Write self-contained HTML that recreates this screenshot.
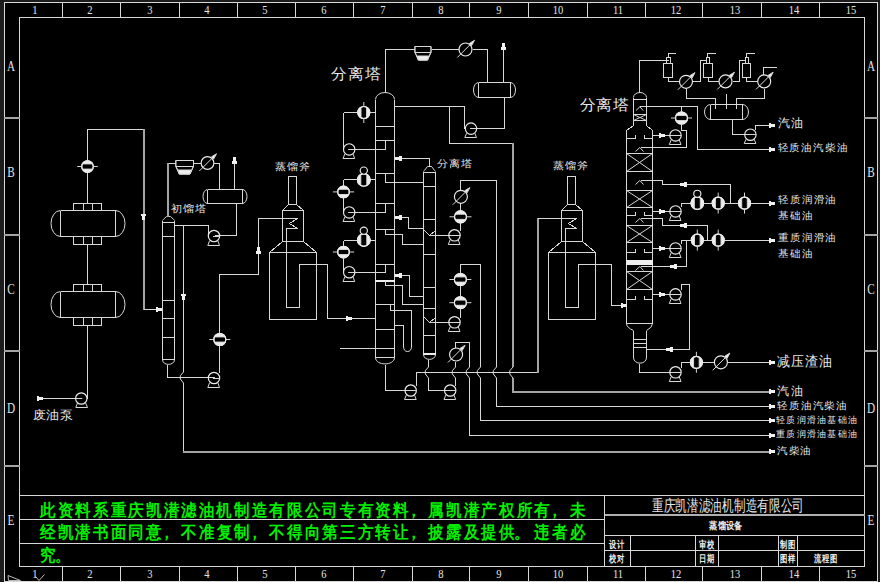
<!DOCTYPE html>
<html><head><meta charset="utf-8"><style>
html,body{margin:0;padding:0;background:#000;}
#w{position:relative;width:880px;height:582px;overflow:hidden;background:#000;}
svg{position:absolute;left:0;top:0;}
.t{position:absolute;white-space:nowrap;line-height:1;}
.a{shape-rendering:geometricPrecision}
</style></head><body><div id="w">
<svg width="880" height="582" viewBox="0 0 880 582">
<g stroke="#d8d8d8" stroke-width="1" fill="none" shape-rendering="crispEdges">
<rect x="0" y="0" width="880" height="582" fill="#1c1c1c" stroke="none"/>
<rect x="4" y="2" width="874" height="580" fill="#000" stroke="none"/>
<rect x="4.5" y="2.5" width="873" height="579"/>
<rect x="19.5" y="17.5" width="845" height="549"/>
<line x1="62.5" y1="2.5" x2="62.5" y2="17.5"/>
<line x1="62.5" y1="566.5" x2="62.5" y2="581.5"/>
<line x1="120.5" y1="2.5" x2="120.5" y2="17.5"/>
<line x1="120.5" y1="566.5" x2="120.5" y2="581.5"/>
<line x1="179.5" y1="2.5" x2="179.5" y2="17.5"/>
<line x1="179.5" y1="566.5" x2="179.5" y2="581.5"/>
<line x1="237.5" y1="2.5" x2="237.5" y2="17.5"/>
<line x1="237.5" y1="566.5" x2="237.5" y2="581.5"/>
<line x1="295.5" y1="2.5" x2="295.5" y2="17.5"/>
<line x1="295.5" y1="566.5" x2="295.5" y2="581.5"/>
<line x1="353.5" y1="2.5" x2="353.5" y2="17.5"/>
<line x1="353.5" y1="566.5" x2="353.5" y2="581.5"/>
<line x1="412.5" y1="2.5" x2="412.5" y2="17.5"/>
<line x1="412.5" y1="566.5" x2="412.5" y2="581.5"/>
<line x1="469.5" y1="2.5" x2="469.5" y2="17.5"/>
<line x1="469.5" y1="566.5" x2="469.5" y2="581.5"/>
<line x1="528.5" y1="2.5" x2="528.5" y2="17.5"/>
<line x1="528.5" y1="566.5" x2="528.5" y2="581.5"/>
<line x1="587.5" y1="2.5" x2="587.5" y2="17.5"/>
<line x1="587.5" y1="566.5" x2="587.5" y2="581.5"/>
<line x1="645.5" y1="2.5" x2="645.5" y2="17.5"/>
<line x1="645.5" y1="566.5" x2="645.5" y2="581.5"/>
<line x1="702.5" y1="2.5" x2="702.5" y2="17.5"/>
<line x1="702.5" y1="566.5" x2="702.5" y2="581.5"/>
<line x1="761.5" y1="2.5" x2="761.5" y2="17.5"/>
<line x1="761.5" y1="566.5" x2="761.5" y2="581.5"/>
<line x1="819.5" y1="2.5" x2="819.5" y2="17.5"/>
<line x1="819.5" y1="566.5" x2="819.5" y2="581.5"/>
<rect x="4" y="117" width="16" height="2" fill="#a4a4a4" stroke="none"/>
<rect x="864" y="117" width="14" height="2" fill="#a4a4a4" stroke="none"/>
<rect x="4" y="234" width="16" height="2" fill="#a4a4a4" stroke="none"/>
<rect x="864" y="234" width="14" height="2" fill="#a4a4a4" stroke="none"/>
<rect x="4" y="350" width="16" height="2" fill="#a4a4a4" stroke="none"/>
<rect x="864" y="350" width="14" height="2" fill="#a4a4a4" stroke="none"/>
<rect x="4" y="465" width="16" height="2" fill="#a4a4a4" stroke="none"/>
<rect x="864" y="465" width="14" height="2" fill="#a4a4a4" stroke="none"/>
<line x1="19.5" y1="495.5" x2="864.5" y2="495.5"/>
<line x1="19.5" y1="519.5" x2="604.5" y2="519.5"/>
<line x1="19.5" y1="543.5" x2="604.5" y2="543.5"/>
<line x1="604.5" y1="495.5" x2="604.5" y2="566.5"/>
<line x1="604.5" y1="514.5" x2="864.5" y2="514.5" stroke="#b0b0b0"/>
<line x1="604.5" y1="515.5" x2="864.5" y2="515.5" stroke="#b0b0b0"/>
<line x1="604.5" y1="535.5" x2="864.5" y2="535.5"/>
<line x1="604.5" y1="550.5" x2="864.5" y2="550.5"/>
<line x1="630.5" y1="535.5" x2="630.5" y2="566.5"/>
<line x1="695.5" y1="535.5" x2="695.5" y2="566.5"/>
<line x1="718.5" y1="535.5" x2="718.5" y2="566.5"/>
<line x1="778.5" y1="535.5" x2="778.5" y2="566.5"/>
<line x1="797.5" y1="535.5" x2="797.5" y2="566.5"/>
<line x1="60.5" y1="210.5" x2="115.5" y2="210.5"/>
<line x1="60.5" y1="236.5" x2="115.5" y2="236.5"/>
<line x1="60.5" y1="210.5" x2="60.5" y2="236.5"/>
<line x1="115.5" y1="210.5" x2="115.5" y2="236.5"/>
<path d="M60.5,210.5 A9.5,13 0 0 0 60.5,236.5" class="a"/>
<path d="M115.5,210.5 A9.5,13 0 0 1 115.5,236.5" class="a"/>
<rect x="73.5" y="203.5" width="28" height="7"/>
<line x1="83.5" y1="203.5" x2="83.5" y2="210.5"/>
<line x1="92.5" y1="203.5" x2="92.5" y2="210.5"/>
<rect x="73.5" y="236.5" width="28" height="8"/>
<line x1="83.5" y1="236.5" x2="83.5" y2="244.5"/>
<line x1="92.5" y1="236.5" x2="92.5" y2="244.5"/>
<line x1="60.5" y1="291.5" x2="115.5" y2="291.5"/>
<line x1="60.5" y1="317.5" x2="115.5" y2="317.5"/>
<line x1="60.5" y1="291.5" x2="60.5" y2="317.5"/>
<line x1="115.5" y1="291.5" x2="115.5" y2="317.5"/>
<path d="M60.5,291.5 A9.5,13 0 0 0 60.5,317.5" class="a"/>
<path d="M115.5,291.5 A9.5,13 0 0 1 115.5,317.5" class="a"/>
<rect x="73.5" y="284.5" width="28" height="7"/>
<line x1="83.5" y1="284.5" x2="83.5" y2="291.5"/>
<line x1="92.5" y1="284.5" x2="92.5" y2="291.5"/>
<rect x="73.5" y="317.5" width="28" height="8"/>
<line x1="83.5" y1="317.5" x2="83.5" y2="325.5"/>
<line x1="92.5" y1="317.5" x2="92.5" y2="325.5"/>
<line x1="87.5" y1="244.5" x2="87.5" y2="284.5"/>
<polyline points="87.5,203.5 87.5,129.5 143.5,129.5"/>
<rect x="143" y="129" width="2" height="181" fill="#a4a4a4" stroke="none"/>
<line x1="143.5" y1="309.5" x2="162.5" y2="309.5"/>
<line x1="87.5" y1="325.5" x2="87.5" y2="398.5"/>
<line x1="81.5" y1="398.5" x2="37.5" y2="398.5"/>
<path d="M162.5,220.5 L163.5,219.3 L166.5,216.5 L170.5,216.5 L173.5,219.3 L174.5,220.5" class="a"/>
<line x1="162.5" y1="220.5" x2="162.5" y2="359.5"/>
<line x1="174.5" y1="220.5" x2="174.5" y2="359.5"/>
<line x1="162.5" y1="222.5" x2="174.5" y2="222.5"/>
<line x1="162.5" y1="236.5" x2="174.5" y2="236.5"/>
<line x1="162.5" y1="300.5" x2="174.5" y2="300.5"/>
<line x1="162.5" y1="318.5" x2="174.5" y2="318.5"/>
<line x1="162.5" y1="337.5" x2="174.5" y2="337.5"/>
<line x1="162.5" y1="359.5" x2="174.5" y2="359.5"/>
<path d="M162.5,359.5 C162.5,366 174.5,366 174.5,359.5" class="a"/>
<rect x="167" y="163" width="2" height="54" fill="#a4a4a4" stroke="none"/>
<line x1="168.5" y1="163.5" x2="176.5" y2="163.5"/>
<line x1="193.5" y1="163.5" x2="200.5" y2="163.5"/>
<polyline points="213.5,163.5 219.5,163.5 219.5,189.5"/>
<line x1="207.5" y1="189.5" x2="242.5" y2="189.5"/>
<line x1="207.5" y1="203.5" x2="242.5" y2="203.5"/>
<line x1="207.5" y1="189.5" x2="207.5" y2="203.5"/>
<line x1="242.5" y1="189.5" x2="242.5" y2="203.5"/>
<path d="M207.5,189.5 A4.5,7 0 0 0 207.5,203.5" class="a"/>
<path d="M242.5,189.5 A4.5,7 0 0 1 242.5,203.5" class="a"/>
<line x1="234.5" y1="189.5" x2="234.5" y2="159.5"/>
<polyline points="236.5,203.5 236.5,235.5 214.5,235.5"/>
<polyline points="208.5,236.5 208.5,225.5 174.5,225.5"/>
<line x1="183.5" y1="225.5" x2="183.5" y2="451.5"/>
<rect x="183" y="451" width="588" height="2" fill="#a4a4a4" stroke="none"/>
<polyline points="167.5,364.5 167.5,377.5 214.5,377.5"/>
<polyline points="219.5,372.5 219.5,274.5 258.5,274.5 258.5,218.5 297.5,218.5"/>
<polyline points="288.5,204.5 288.5,176.5 296.5,176.5 296.5,204.5"/>
<line x1="288.5" y1="204.5" x2="296.5" y2="204.5"/>
<polyline points="288.5,204.5 282.5,210.5 303.5,210.5 296.5,204.5"/>
<polyline points="282.5,210.5 282.5,241.5 303.5,241.5 303.5,210.5"/>
<polyline points="282.5,241.5 269.5,252.5 316.5,252.5 303.5,241.5"/>
<polyline points="269.5,252.5 269.5,319.5 316.5,319.5 316.5,252.5"/>
<polyline points="297.5,218.5 289.5,223.5 297.5,228.5 286.5,228.5 286.5,307.5 299.5,307.5 299.5,264.5 327.5,264.5"/>
<polyline points="327.5,264.5 327.5,318.5 375.5,318.5"/>
<path d="M375.5,99.5 A9.5,7 0 0 1 394.5,99.5" class="a"/>
<line x1="375.5" y1="99.5" x2="375.5" y2="357.5"/>
<line x1="394.5" y1="99.5" x2="394.5" y2="357.5"/>
<line x1="375.5" y1="126.5" x2="394.5" y2="126.5"/>
<line x1="375.5" y1="140.5" x2="394.5" y2="140.5"/>
<line x1="375.5" y1="173.5" x2="394.5" y2="173.5"/>
<line x1="375.5" y1="203.5" x2="394.5" y2="203.5"/>
<line x1="375.5" y1="229.5" x2="394.5" y2="229.5"/>
<line x1="375.5" y1="264.5" x2="394.5" y2="264.5"/>
<line x1="375.5" y1="304.5" x2="394.5" y2="304.5"/>
<line x1="375.5" y1="329.5" x2="394.5" y2="329.5"/>
<line x1="375.5" y1="357.5" x2="394.5" y2="357.5"/>
<rect x="375" y="280" width="20" height="2" fill="#eeeeee" stroke="none"/>
<path d="M375.5,357.5 C375.5,366 394.5,366 394.5,357.5" class="a"/>
<polyline points="385.5,92.5 385.5,49.5 415.5,49.5"/>
<line x1="431.5" y1="49.5" x2="459.5" y2="49.5"/>
<polyline points="472.5,49.5 487.5,49.5 487.5,82.5"/>
<line x1="478.5" y1="82.5" x2="510.5" y2="82.5"/>
<line x1="478.5" y1="97.5" x2="510.5" y2="97.5"/>
<line x1="478.5" y1="82.5" x2="478.5" y2="97.5"/>
<line x1="510.5" y1="82.5" x2="510.5" y2="97.5"/>
<path d="M478.5,82.5 A5,7.5 0 0 0 478.5,97.5" class="a"/>
<path d="M510.5,82.5 A5,7.5 0 0 1 510.5,97.5" class="a"/>
<line x1="503.5" y1="82.5" x2="503.5" y2="46.5"/>
<polyline points="504.5,97.5 504.5,128.5 471.5,128.5"/>
<polyline points="464.5,128.5 464.5,106.5 394.5,106.5"/>
<polyline points="449.5,106.5 449.5,143.5 512.5,143.5"/>
<rect x="512" y="143" width="2" height="249" fill="#a4a4a4" stroke="none"/>
<rect x="512" y="391" width="259" height="2" fill="#a4a4a4" stroke="none"/>
<line x1="343.5" y1="112.5" x2="375.5" y2="112.5"/>
<line x1="343.5" y1="112.5" x2="343.5" y2="149.5"/>
<polyline points="349.5,149.5 385.5,149.5 385.5,140.5"/>
<line x1="343.5" y1="179.5" x2="375.5" y2="179.5"/>
<line x1="343.5" y1="179.5" x2="343.5" y2="211.5"/>
<polyline points="349.5,212.5 385.5,212.5 385.5,203.5"/>
<line x1="343.5" y1="240.5" x2="375.5" y2="240.5"/>
<line x1="343.5" y1="240.5" x2="343.5" y2="271.5"/>
<polyline points="349.5,272.5 385.5,272.5 385.5,264.5"/>
<line x1="339.5" y1="348.5" x2="394.5" y2="348.5"/>
<polyline points="385.5,173.5 385.5,182.5 423.5,182.5"/>
<polyline points="394.5,158.5 429.5,158.5 429.5,166.5"/>
<polyline points="385.5,229.5 385.5,234.5 402.5,234.5 402.5,244.5 423.5,244.5"/>
<polyline points="394.5,217.5 408.5,217.5 408.5,228.5 423.5,228.5"/>
<polyline points="385.5,280.5 385.5,285.5 402.5,285.5 402.5,304.5 423.5,304.5"/>
<polyline points="394.5,275.5 409.5,275.5 409.5,296.5 423.5,296.5"/>
<polyline points="390.5,304.5 390.5,310.5 411.5,310.5 411.5,346.5"/>
<path d="M411.5,346 Q411.5,351.5 407.5,351.5 Q403.5,351.5 403.5,346" class="a"/>
<polyline points="403.5,346.5 403.5,325.5 394.5,325.5"/>
<polyline points="385.5,364.5 385.5,390.5 411.5,390.5"/>
<polyline points="416.5,385.5 416.5,372.5 537.5,372.5"/>
<rect x="537" y="218" width="2" height="155" fill="#a4a4a4" stroke="none"/>
<line x1="537.5" y1="218.5" x2="576.5" y2="218.5"/>
<path d="M423.5,171.5 L424.5,170.3 L427.5,166.5 L431.5,166.5 L434.5,170.3 L435.5,171.5" class="a"/>
<line x1="423.5" y1="171.5" x2="423.5" y2="353.5"/>
<line x1="435.5" y1="171.5" x2="435.5" y2="353.5"/>
<line x1="423.5" y1="172.5" x2="435.5" y2="172.5"/>
<line x1="423.5" y1="186.5" x2="435.5" y2="186.5"/>
<line x1="423.5" y1="219.5" x2="435.5" y2="219.5"/>
<line x1="423.5" y1="254.5" x2="435.5" y2="254.5"/>
<line x1="423.5" y1="287.5" x2="435.5" y2="287.5"/>
<line x1="423.5" y1="308.5" x2="435.5" y2="308.5"/>
<line x1="423.5" y1="335.5" x2="435.5" y2="335.5"/>
<rect x="423" y="353" width="13" height="2" fill="#eeeeee" stroke="none"/>
<path d="M423.5,354.5 C423.5,361 435.5,361 435.5,354.5" class="a"/>
<polyline points="423.5,229.5 429.5,235.5 435.5,230.5"/>
<line x1="429.5" y1="235.5" x2="454.5" y2="235.5"/>
<polyline points="423.5,316.5 429.5,322.5 435.5,317.5"/>
<line x1="429.5" y1="322.5" x2="454.5" y2="322.5"/>
<polyline points="460.5,230.5 460.5,180.5 496.5,180.5 496.5,406.5 770.5,406.5"/>
<polyline points="460.5,317.5 460.5,264.5 480.5,264.5 480.5,420.5 770.5,420.5"/>
<polyline points="428.5,359.5 428.5,390.5 450.5,390.5"/>
<line x1="455.5" y1="385.5" x2="455.5" y2="361.5"/>
<polyline points="455.5,348.5 455.5,342.5 469.5,342.5 469.5,435.5 770.5,435.5"/>
<polyline points="567.5,204.5 567.5,176.5 575.5,176.5 575.5,204.5"/>
<line x1="567.5" y1="204.5" x2="575.5" y2="204.5"/>
<polyline points="567.5,204.5 561.5,210.5 582.5,210.5 575.5,204.5"/>
<polyline points="561.5,210.5 561.5,241.5 582.5,241.5 582.5,210.5"/>
<polyline points="561.5,241.5 548.5,252.5 595.5,252.5 582.5,241.5"/>
<polyline points="548.5,252.5 548.5,319.5 595.5,319.5 595.5,252.5"/>
<polyline points="576.5,218.5 568.5,223.5 576.5,228.5 565.5,228.5 565.5,307.5 578.5,307.5 578.5,264.5 611.5,264.5"/>
<polyline points="611.5,264.5 611.5,305.5 626.5,305.5"/>
<path d="M633.5,97.5 A6.5,5 0 0 1 646.5,97.5" class="a"/>
<polyline points="633.5,97.5 633.5,125.5 626.5,130.5 626.5,323.5"/>
<polyline points="646.5,97.5 646.5,125.5 652.5,130.5 652.5,323.5"/>
<line x1="633.5" y1="99.5" x2="646.5" y2="99.5"/>
<line x1="633.5" y1="114.5" x2="646.5" y2="114.5"/>
<line x1="633.5" y1="120.5" x2="646.5" y2="120.5"/>
<line x1="633.5" y1="114.5" x2="646.5" y2="120.5" class="a"/>
<line x1="646.5" y1="114.5" x2="633.5" y2="120.5" class="a"/>
<polyline points="636,110.5 639.8,106.8 643.2,110.5" class="a"/>
<polyline points="639.5,106.5 697.5,106.5 697.5,149.5 770.5,149.5"/>
<polyline points="639.5,92.5 639.5,60.5 668.5,60.5"/>
<line x1="626.5" y1="153.5" x2="652.5" y2="153.5"/>
<line x1="626.5" y1="171.5" x2="652.5" y2="171.5"/>
<line x1="626.5" y1="153.5" x2="652.5" y2="171.5" class="a"/>
<line x1="652.5" y1="153.5" x2="626.5" y2="171.5" class="a"/>
<line x1="626.5" y1="190.5" x2="652.5" y2="190.5"/>
<line x1="626.5" y1="207.5" x2="652.5" y2="207.5"/>
<line x1="626.5" y1="190.5" x2="652.5" y2="207.5" class="a"/>
<line x1="652.5" y1="190.5" x2="626.5" y2="207.5" class="a"/>
<line x1="626.5" y1="225.5" x2="652.5" y2="225.5"/>
<line x1="626.5" y1="242.5" x2="652.5" y2="242.5"/>
<line x1="626.5" y1="225.5" x2="652.5" y2="242.5" class="a"/>
<line x1="652.5" y1="225.5" x2="626.5" y2="242.5" class="a"/>
<line x1="626.5" y1="271.5" x2="652.5" y2="271.5"/>
<line x1="626.5" y1="289.5" x2="652.5" y2="289.5"/>
<line x1="626.5" y1="271.5" x2="652.5" y2="289.5" class="a"/>
<line x1="652.5" y1="271.5" x2="626.5" y2="289.5" class="a"/>
<polyline points="626.5,138.5 635.5,138.5 635.5,134.5"/>
<polyline points="644.5,134.5 644.5,138.5 652.5,138.5"/>
<polyline points="626.5,215.5 635.5,215.5 635.5,211.5"/>
<polyline points="644.5,211.5 644.5,215.5 652.5,215.5"/>
<polyline points="626.5,252.5 635.5,252.5 635.5,248.5"/>
<polyline points="644.5,248.5 644.5,252.5 652.5,252.5"/>
<polyline points="626.5,299.5 635.5,299.5 635.5,295.5"/>
<polyline points="644.5,295.5 644.5,299.5 652.5,299.5"/>
<rect x="626" y="259.5" width="27" height="5" fill="#eeeeee" stroke="none"/>
<line x1="626.5" y1="323.5" x2="652.5" y2="323.5"/>
<path d="M626.5,323.5 Q626.5,327.5 633.5,330.5 M652.5,323.5 Q652.5,327.5 646.5,330.5" class="a"/>
<line x1="633.5" y1="330.5" x2="633.5" y2="357.5"/>
<line x1="646.5" y1="330.5" x2="646.5" y2="357.5"/>
<line x1="633.5" y1="339.5" x2="646.5" y2="339.5"/>
<line x1="633.5" y1="343.5" x2="646.5" y2="343.5"/>
<line x1="633.5" y1="347.5" x2="646.5" y2="347.5"/>
<path d="M633.5,357.5 C633.5,365 646.5,365 646.5,357.5" class="a"/>
<polyline points="639.5,363.5 639.5,372.5 675.5,372.5"/>
<polyline points="681.5,367.5 681.5,362.5 690.5,362.5"/>
<line x1="702.5" y1="362.5" x2="714.5" y2="362.5"/>
<line x1="727.5" y1="362.5" x2="770.5" y2="362.5"/>
<polyline points="646.5,349.5 689.5,349.5 689.5,284.5 681.5,284.5 681.5,289.5"/>
<line x1="652.5" y1="135.5" x2="675.5" y2="135.5"/>
<line x1="652.5" y1="211.5" x2="675.5" y2="211.5"/>
<line x1="652.5" y1="248.5" x2="675.5" y2="248.5"/>
<line x1="652.5" y1="294.5" x2="675.5" y2="294.5"/>
<polyline points="681.5,106.5 681.5,130.5 686.5,130.5 686.5,147.5"/>
<polyline points="635.5,151.5 639.8,147.5 643.5,151.5" class="a"/>
<line x1="640.5" y1="147.5" x2="686.5" y2="147.5"/>
<polyline points="635.5,184.5 639.8,180.5 643.5,184.5" class="a"/>
<line x1="640.5" y1="180.5" x2="662.5" y2="180.5"/>
<polyline points="662.5,180.5 662.5,184.5 730.5,184.5 730.5,203.5"/>
<polyline points="635.5,222.5 639.8,218.5 643.5,222.5" class="a"/>
<line x1="640.5" y1="218.5" x2="662.5" y2="218.5"/>
<polyline points="662.5,218.5 662.5,225.5 707.5,225.5 707.5,240.5"/>
<polyline points="681.5,206.5 681.5,203.5 770.5,203.5"/>
<polyline points="681.5,243.5 681.5,240.5 770.5,240.5"/>
<polyline points="635.5,270.5 639.8,266.5 643.5,270.5" class="a"/>
<line x1="640.5" y1="266.5" x2="686.5" y2="266.5"/>
<line x1="686.5" y1="266.5" x2="686.5" y2="240.5"/>
<rect x="663.5" y="63.5" width="9" height="14"/>
<rect x="666.5" y="57.5" width="4" height="6"/>
<polyline points="668.5,57.5 668.5,53.5 675.5,53.5"/>
<rect x="703.5" y="63.5" width="9" height="14"/>
<rect x="706.5" y="57.5" width="3" height="6"/>
<polyline points="707.5,57.5 707.5,53.5 715.5,53.5"/>
<rect x="742.5" y="63.5" width="8" height="14"/>
<rect x="745.5" y="57.5" width="3" height="6"/>
<polyline points="746.5,57.5 746.5,53.5 754.5,53.5"/>
<polyline points="668.5,77.5 668.5,81.5 680.5,81.5"/>
<polyline points="692.5,81.5 700.5,81.5 700.5,60.5 706.5,60.5"/>
<polyline points="708.5,77.5 708.5,81.5 719.5,81.5"/>
<polyline points="732.5,81.5 739.5,81.5 739.5,60.5 745.5,60.5"/>
<polyline points="746.5,77.5 746.5,81.5 758.5,81.5"/>
<polyline points="763.5,75.5 763.5,67.5 776.5,67.5"/>
<polyline points="686.5,88.5 686.5,98.5 715.5,98.5 715.5,108.5"/>
<polyline points="764.5,88.5 764.5,98.5 736.5,98.5 736.5,108.5"/>
<line x1="726.5" y1="93.5" x2="726.5" y2="108.5"/>
<line x1="710.5" y1="104.5" x2="742.5" y2="104.5"/>
<line x1="710.5" y1="119.5" x2="742.5" y2="119.5"/>
<line x1="710.5" y1="104.5" x2="710.5" y2="119.5"/>
<line x1="742.5" y1="104.5" x2="742.5" y2="119.5"/>
<path d="M710.5,104.5 A6,7.5 0 0 0 710.5,119.5" class="a"/>
<path d="M742.5,104.5 A6,7.5 0 0 1 742.5,119.5" class="a"/>
<polyline points="732.5,119.5 732.5,134.5 750.5,134.5"/>
<polyline points="755.5,129.5 755.5,125.5 770.5,125.5"/>
<polyline points="8,575.5 20.5,580.5 8.5,580.5 8,575.5" class="a" stroke="#bbbbbb"/>
<polyline points="35.5,576.5 39,580.5 44.5,574.5" class="a" stroke="#bbbbbb"/>
<polygon points="144.5,220.2 145,216.2 146,215.9 146,213.5 141,213.5 141,215.9 142,216.2 142.5,220.2" fill="#f0f0f0" stroke="none"/>
<polygon points="162.2,310.5 158.2,311 157.9,312 155.5,312 155.5,307 157.9,307 158.2,308 162.2,308.5" fill="#f0f0f0" stroke="none"/>
<circle cx="87.5" cy="166.5" r="5.8" fill="#000" class="a" stroke="#ececec" stroke-width="1.15"/>
<path d="M82.32,163.9 A5.8,5.8 0 0 1 92.68,163.9 Z" fill="#eeeeee" class="a"/>
<path d="M82.32,169.1 A5.8,5.8 0 0 0 92.68,169.1 Z" fill="#eeeeee" class="a"/>
<circle cx="87.5" cy="166.5" r="5.8" fill="none" class="a" stroke="#ececec" stroke-width="1.15"/>
<polyline points="77.2,166.5 81.7,166.5" class="a"/>
<polyline points="93.3,166.5 97.8,166.5" class="a"/>
<circle cx="81.3" cy="398.5" r="5.7" fill="none" class="a" stroke="#ececec" stroke-width="1.15"/>
<polyline points="82.3,398.5 75.6,398.5" class="a"/>
<polyline points="85.7,403.1 87.5,407.5 75.8,407.5 77.5,403.1" class="a"/>
<polygon points="43.2,399.5 39.2,400 38.9,401 36.5,401 36.5,396 38.9,396 39.2,397 43.2,397.5" fill="#f0f0f0" stroke="none"/>
<polygon points="175.8,160.5 193.5,160.5 193.5,166.5 190,174 179.3,174 175.8,166.5" fill="#000" class="a"/>
<polyline points="175.8,166.5 175.8,160.5 193.5,160.5 193.5,166.5" class="a"/>
<polyline points="175.8,166.5 193.5,166.5" class="a"/>
<polyline points="176.1,166.5 179.3,174 190,174 193.2,166.5" class="a"/>
<polygon points="178,170 191.3,170 190,174 179.3,174" fill="#eeeeee" class="a"/>
<circle cx="207.5" cy="163" r="6.4" fill="#000" class="a" stroke="#ececec" stroke-width="1.15"/>
<polyline points="199.3,171 213,157.3" class="a"/>
<polygon points="211.4,156.9 216.5,153.8 213.6,159.1" fill="#f0f0f0" class="a"/>
<polygon points="235.5,156.8 236,160.8 237,161.1 237,163.5 232,163.5 232,161.1 233,160.8 233.5,156.8" fill="#f0f0f0" stroke="none"/>
<circle cx="214" cy="236" r="5.7" fill="none" class="a" stroke="#ececec" stroke-width="1.15"/>
<polyline points="213,236.5 219.7,236.5" class="a"/>
<polyline points="209.6,240.6 207.8,245.5 219.5,245.5 217.8,240.6" class="a"/>
<rect x="183" y="372" width="1" height="5" fill="#000" stroke="none"/>
<rect x="183" y="378" width="1" height="5" fill="#000" stroke="none"/>
<polyline points="183.5,372 180.3,375.7 180.3,379 183.5,383" class="a"/>
<polygon points="184.5,300.2 185,296.2 186,295.9 186,293.5 181,293.5 181,295.9 182,296.2 182.5,300.2" fill="#f0f0f0" stroke="none"/>
<circle cx="214" cy="378" r="5.7" fill="none" class="a" stroke="#ececec" stroke-width="1.15"/>
<polyline points="213,378.5 219.7,378.5" class="a"/>
<polyline points="209.6,382.6 207.8,387.5 219.5,387.5 217.8,382.6" class="a"/>
<polygon points="259.5,246.8 260,250.8 261,251.1 261,253.5 256,253.5 256,251.1 257,250.8 257.5,246.8" fill="#f0f0f0" stroke="none"/>
<circle cx="219.8" cy="339.5" r="6" fill="#000" class="a" stroke="#ececec" stroke-width="1.15"/>
<path d="M214.39,336.9 A6,6 0 0 1 225.21,336.9 Z" fill="#eeeeee" class="a"/>
<path d="M214.39,342.1 A6,6 0 0 0 225.21,342.1 Z" fill="#eeeeee" class="a"/>
<circle cx="219.8" cy="339.5" r="6" fill="none" class="a" stroke="#ececec" stroke-width="1.15"/>
<polyline points="209.3,339.5 213.8,339.5" class="a"/>
<polyline points="225.8,339.5 230.3,339.5" class="a"/>
<polygon points="352.2,319.5 348.2,320 347.9,321 345.5,321 345.5,316 347.9,316 348.2,317 352.2,317.5" fill="#f0f0f0" stroke="none"/>
<polygon points="414.9,46.5 431,46.5 431,52.5 427.5,60 418.4,60 414.9,52.5" fill="#000" class="a"/>
<polyline points="414.9,52.5 414.9,46.5 431,46.5 431,52.5" class="a"/>
<polyline points="414.9,52.5 431,52.5" class="a"/>
<polyline points="415.2,52.5 418.4,60 427.5,60 430.7,52.5" class="a"/>
<polygon points="417.1,56 428.8,56 427.5,60 418.4,60" fill="#eeeeee" class="a"/>
<circle cx="465.5" cy="49.5" r="6.5" fill="#000" class="a" stroke="#ececec" stroke-width="1.15"/>
<polyline points="457.3,57.5 471,43.8" class="a"/>
<polygon points="469.4,43.4 474.5,40.3 471.6,45.6" fill="#f0f0f0" class="a"/>
<polygon points="504.5,42.8 505,46.8 506,47.1 506,49.5 501,49.5 501,47.1 502,46.8 502.5,42.8" fill="#f0f0f0" stroke="none"/>
<circle cx="471" cy="128.6" r="5.7" fill="none" class="a" stroke="#ececec" stroke-width="1.15"/>
<polyline points="470,128.5 476.7,128.5" class="a"/>
<polyline points="466.6,133.2 464.8,137.5 476.5,137.5 474.8,133.2" class="a"/>
<circle cx="363.8" cy="112.5" r="6" fill="#000" class="a" stroke="#ececec" stroke-width="1.15"/>
<path d="M361,107.19 A6,6 0 0 0 361,117.81 Z" fill="#eeeeee" class="a"/>
<path d="M366.6,107.19 A6,6 0 0 1 366.6,117.81 Z" fill="#eeeeee" class="a"/>
<circle cx="363.8" cy="112.5" r="6" fill="none" class="a" stroke="#ececec" stroke-width="1.15"/>
<polyline points="363.8,102 363.8,106.5" class="a"/>
<polyline points="363.8,118.5 363.8,123" class="a"/>
<circle cx="349.2" cy="149.4" r="5.7" fill="none" class="a" stroke="#ececec" stroke-width="1.15"/>
<polyline points="348.2,149.5 354.9,149.5" class="a"/>
<polyline points="344.8,154 343,158.5 354.7,158.5 353,154" class="a"/>
<circle cx="363.8" cy="179.9" r="6.3" fill="#000" class="a" stroke="#ececec" stroke-width="1.15"/>
<path d="M360.8,174.36 A6.3,6.3 0 0 0 360.8,185.44 Z" fill="#eeeeee" class="a"/>
<path d="M366.8,174.36 A6.3,6.3 0 0 1 366.8,185.44 Z" fill="#eeeeee" class="a"/>
<circle cx="363.8" cy="179.9" r="6.3" fill="none" class="a" stroke="#ececec" stroke-width="1.15"/>
<circle cx="363.8" cy="170.6" r="3.6" fill="#000" class="a" stroke="#ececec" stroke-width="1.15"/>
<circle cx="343.5" cy="191.9" r="5.8" fill="#000" class="a" stroke="#ececec" stroke-width="1.15"/>
<path d="M338.32,189.3 A5.8,5.8 0 0 1 348.68,189.3 Z" fill="#eeeeee" class="a"/>
<path d="M338.32,194.5 A5.8,5.8 0 0 0 348.68,194.5 Z" fill="#eeeeee" class="a"/>
<circle cx="343.5" cy="191.9" r="5.8" fill="none" class="a" stroke="#ececec" stroke-width="1.15"/>
<polyline points="332.9,191.9 337.7,191.9" class="a"/>
<polyline points="349.3,191.9 354.1,191.9" class="a"/>
<circle cx="349.2" cy="212.4" r="5.7" fill="none" class="a" stroke="#ececec" stroke-width="1.15"/>
<polyline points="348.2,212.5 354.9,212.5" class="a"/>
<polyline points="344.8,217 343,221.5 354.7,221.5 353,217" class="a"/>
<circle cx="363.8" cy="240" r="6.3" fill="#000" class="a" stroke="#ececec" stroke-width="1.15"/>
<path d="M360.8,234.46 A6.3,6.3 0 0 0 360.8,245.54 Z" fill="#eeeeee" class="a"/>
<path d="M366.8,234.46 A6.3,6.3 0 0 1 366.8,245.54 Z" fill="#eeeeee" class="a"/>
<circle cx="363.8" cy="240" r="6.3" fill="none" class="a" stroke="#ececec" stroke-width="1.15"/>
<circle cx="363.8" cy="230.7" r="3.6" fill="#000" class="a" stroke="#ececec" stroke-width="1.15"/>
<circle cx="343.5" cy="252" r="5.8" fill="#000" class="a" stroke="#ececec" stroke-width="1.15"/>
<path d="M338.32,249.4 A5.8,5.8 0 0 1 348.68,249.4 Z" fill="#eeeeee" class="a"/>
<path d="M338.32,254.6 A5.8,5.8 0 0 0 348.68,254.6 Z" fill="#eeeeee" class="a"/>
<circle cx="343.5" cy="252" r="5.8" fill="none" class="a" stroke="#ececec" stroke-width="1.15"/>
<polyline points="332.9,252 337.7,252" class="a"/>
<polyline points="349.3,252 354.1,252" class="a"/>
<circle cx="349.2" cy="272.2" r="5.7" fill="none" class="a" stroke="#ececec" stroke-width="1.15"/>
<polyline points="348.2,272.5 354.9,272.5" class="a"/>
<polyline points="344.8,276.8 343,281.5 354.7,281.5 353,276.8" class="a"/>
<polygon points="394.8,159.5 398.8,160 399.1,161 401.5,161 401.5,156 399.1,156 398.8,157 394.8,157.5" fill="#f0f0f0" stroke="none"/>
<polygon points="394.8,218.5 398.8,219 399.1,220 401.5,220 401.5,215 399.1,215 398.8,216 394.8,216.5" fill="#f0f0f0" stroke="none"/>
<polygon points="394.8,276.5 398.8,277 399.1,278 401.5,278 401.5,273 399.1,273 398.8,274 394.8,274.5" fill="#f0f0f0" stroke="none"/>
<circle cx="410.7" cy="390.5" r="5.7" fill="none" class="a" stroke="#ececec" stroke-width="1.15"/>
<polyline points="409.7,390.5 416.4,390.5" class="a"/>
<polyline points="406.3,395.1 404.5,399.5 416.2,399.5 414.5,395.1" class="a"/>
<circle cx="454.5" cy="235.3" r="5.7" fill="none" class="a" stroke="#ececec" stroke-width="1.15"/>
<polyline points="453.5,235.5 460.2,235.5" class="a"/>
<polyline points="450.1,239.9 448.3,244.5 460,244.5 458.3,239.9" class="a"/>
<circle cx="454.5" cy="322.3" r="5.7" fill="none" class="a" stroke="#ececec" stroke-width="1.15"/>
<polyline points="453.5,322.5 460.2,322.5" class="a"/>
<polyline points="450.1,326.9 448.3,331.5 460,331.5 458.3,326.9" class="a"/>
<circle cx="460.9" cy="196.8" r="6.5" fill="#000" class="a" stroke="#ececec" stroke-width="1.15"/>
<polyline points="452.7,204.8 466.4,191.1" class="a"/>
<polygon points="464.8,190.7 469.9,187.6 467,192.9" fill="#f0f0f0" class="a"/>
<circle cx="460.5" cy="216.8" r="6" fill="#000" class="a" stroke="#ececec" stroke-width="1.15"/>
<path d="M455.09,214.2 A6,6 0 0 1 465.91,214.2 Z" fill="#eeeeee" class="a"/>
<path d="M455.09,219.4 A6,6 0 0 0 465.91,219.4 Z" fill="#eeeeee" class="a"/>
<circle cx="460.5" cy="216.8" r="6" fill="none" class="a" stroke="#ececec" stroke-width="1.15"/>
<polyline points="449.5,216.8 454.5,216.8" class="a"/>
<polyline points="466.5,216.8 471.5,216.8" class="a"/>
<circle cx="460.4" cy="279.5" r="6" fill="#000" class="a" stroke="#ececec" stroke-width="1.15"/>
<path d="M454.99,276.9 A6,6 0 0 1 465.81,276.9 Z" fill="#eeeeee" class="a"/>
<path d="M454.99,282.1 A6,6 0 0 0 465.81,282.1 Z" fill="#eeeeee" class="a"/>
<circle cx="460.4" cy="279.5" r="6" fill="none" class="a" stroke="#ececec" stroke-width="1.15"/>
<polyline points="449.4,279.5 454.4,279.5" class="a"/>
<polyline points="466.4,279.5 471.4,279.5" class="a"/>
<circle cx="460.4" cy="302.7" r="6" fill="#000" class="a" stroke="#ececec" stroke-width="1.15"/>
<path d="M454.99,300.1 A6,6 0 0 1 465.81,300.1 Z" fill="#eeeeee" class="a"/>
<path d="M454.99,305.3 A6,6 0 0 0 465.81,305.3 Z" fill="#eeeeee" class="a"/>
<circle cx="460.4" cy="302.7" r="6" fill="none" class="a" stroke="#ececec" stroke-width="1.15"/>
<polyline points="449.4,302.7 454.4,302.7" class="a"/>
<polyline points="466.4,302.7 471.4,302.7" class="a"/>
<circle cx="450.2" cy="390.5" r="5.7" fill="none" class="a" stroke="#ececec" stroke-width="1.15"/>
<polyline points="449.2,390.5 455.9,390.5" class="a"/>
<polyline points="445.8,395.1 444,399.5 455.7,399.5 454,395.1" class="a"/>
<circle cx="456.1" cy="354.5" r="6.5" fill="#000" class="a" stroke="#ececec" stroke-width="1.15"/>
<polyline points="447.9,362.5 461.6,348.8" class="a"/>
<polygon points="460,348.4 465.1,345.3 462.2,350.6" fill="#f0f0f0" class="a"/>
<rect x="428" y="367" width="1" height="5" fill="#000" stroke="none"/>
<rect x="428" y="373" width="1" height="5" fill="#000" stroke="none"/>
<polyline points="428.5,367 425.3,370.7 425.3,374 428.5,378" class="a"/>
<rect x="455" y="367" width="1" height="5" fill="#000" stroke="none"/>
<rect x="455" y="373" width="1" height="5" fill="#000" stroke="none"/>
<polyline points="455.5,367 452.3,370.7 452.3,374 455.5,378" class="a"/>
<rect x="469" y="367" width="1" height="5" fill="#000" stroke="none"/>
<rect x="469" y="373" width="1" height="5" fill="#000" stroke="none"/>
<polyline points="469.5,367 466.3,370.7 466.3,374 469.5,378" class="a"/>
<rect x="480" y="367" width="1" height="5" fill="#000" stroke="none"/>
<rect x="480" y="373" width="1" height="5" fill="#000" stroke="none"/>
<polyline points="480.5,367 477.3,370.7 477.3,374 480.5,378" class="a"/>
<rect x="496" y="367" width="1" height="5" fill="#000" stroke="none"/>
<rect x="496" y="373" width="1" height="5" fill="#000" stroke="none"/>
<polyline points="496.5,367 493.3,370.7 493.3,374 496.5,378" class="a"/>
<rect x="512" y="367" width="2" height="5" fill="#000" stroke="none"/>
<rect x="512" y="373" width="2" height="5" fill="#000" stroke="none"/>
<polyline points="513,367 509.8,370.7 509.8,374 513,378" class="a"/>
<polygon points="627.2,306.5 623.2,307 622.9,308 620.5,308 620.5,303 622.9,303 623.2,304 627.2,304.5" fill="#f0f0f0" stroke="none"/>
<circle cx="675.5" cy="372.3" r="5.7" fill="none" class="a" stroke="#ececec" stroke-width="1.15"/>
<polyline points="674.5,372.5 681.2,372.5" class="a"/>
<polyline points="671.1,376.9 669.3,381.5 681,381.5 679.3,376.9" class="a"/>
<circle cx="696.4" cy="362.3" r="6" fill="#000" class="a" stroke="#ececec" stroke-width="1.15"/>
<path d="M693.6,356.99 A6,6 0 0 0 693.6,367.61 Z" fill="#eeeeee" class="a"/>
<path d="M699.2,356.99 A6,6 0 0 1 699.2,367.61 Z" fill="#eeeeee" class="a"/>
<circle cx="696.4" cy="362.3" r="6" fill="none" class="a" stroke="#ececec" stroke-width="1.15"/>
<polyline points="696.4,351.8 696.4,356.3" class="a"/>
<polyline points="696.4,368.3 696.4,372.8" class="a"/>
<circle cx="720.9" cy="362.3" r="6.5" fill="#000" class="a" stroke="#ececec" stroke-width="1.15"/>
<polyline points="712.7,370.3 726.4,356.6" class="a"/>
<polygon points="724.8,356.2 729.9,353.1 727,358.4" fill="#f0f0f0" class="a"/>
<polygon points="665.8,350.5 669.8,351 670.1,352 672.5,352 672.5,347 670.1,347 669.8,348 665.8,348.5" fill="#f0f0f0" stroke="none"/>
<polygon points="665.2,136.5 661.2,137 660.9,138 658.5,138 658.5,133 660.9,133 661.2,134 665.2,134.5" fill="#f0f0f0" stroke="none"/>
<circle cx="675.5" cy="135.4" r="5.7" fill="none" class="a" stroke="#ececec" stroke-width="1.15"/>
<polyline points="674.5,135.5 681.2,135.5" class="a"/>
<polyline points="671.1,140 669.3,144.5 681,144.5 679.3,140" class="a"/>
<polygon points="665.2,212.5 661.2,213 660.9,214 658.5,214 658.5,209 660.9,209 661.2,210 665.2,210.5" fill="#f0f0f0" stroke="none"/>
<circle cx="675.5" cy="211.4" r="5.7" fill="none" class="a" stroke="#ececec" stroke-width="1.15"/>
<polyline points="674.5,211.5 681.2,211.5" class="a"/>
<polyline points="671.1,216 669.3,220.5 681,220.5 679.3,216" class="a"/>
<polygon points="665.2,249.5 661.2,250 660.9,251 658.5,251 658.5,246 660.9,246 661.2,247 665.2,247.5" fill="#f0f0f0" stroke="none"/>
<circle cx="675.5" cy="248.4" r="5.7" fill="none" class="a" stroke="#ececec" stroke-width="1.15"/>
<polyline points="674.5,248.5 681.2,248.5" class="a"/>
<polyline points="671.1,253 669.3,257.5 681,257.5 679.3,253" class="a"/>
<polygon points="665.2,295.5 661.2,296 660.9,297 658.5,297 658.5,292 660.9,292 661.2,293 665.2,293.5" fill="#f0f0f0" stroke="none"/>
<circle cx="675.5" cy="294.4" r="5.7" fill="none" class="a" stroke="#ececec" stroke-width="1.15"/>
<polyline points="674.5,294.5 681.2,294.5" class="a"/>
<polyline points="671.1,299 669.3,303.5 681,303.5 679.3,299" class="a"/>
<circle cx="681.5" cy="118" r="6" fill="#000" class="a" stroke="#ececec" stroke-width="1.15"/>
<path d="M676.09,115.4 A6,6 0 0 1 686.91,115.4 Z" fill="#eeeeee" class="a"/>
<path d="M676.09,120.6 A6,6 0 0 0 686.91,120.6 Z" fill="#eeeeee" class="a"/>
<circle cx="681.5" cy="118" r="6" fill="none" class="a" stroke="#ececec" stroke-width="1.15"/>
<polyline points="671,118 675.5,118" class="a"/>
<polyline points="687.5,118 692,118" class="a"/>
<polygon points="679.8,185.5 683.8,186 684.1,187 686.5,187 686.5,182 684.1,182 683.8,183 679.8,183.5" fill="#f0f0f0" stroke="none"/>
<polygon points="679.8,226.5 683.8,227 684.1,228 686.5,228 686.5,223 684.1,223 683.8,224 679.8,224.5" fill="#f0f0f0" stroke="none"/>
<circle cx="697.3" cy="203.1" r="6.3" fill="#000" class="a" stroke="#ececec" stroke-width="1.15"/>
<path d="M694.3,197.56 A6.3,6.3 0 0 0 694.3,208.64 Z" fill="#eeeeee" class="a"/>
<path d="M700.3,197.56 A6.3,6.3 0 0 1 700.3,208.64 Z" fill="#eeeeee" class="a"/>
<circle cx="697.3" cy="203.1" r="6.3" fill="none" class="a" stroke="#ececec" stroke-width="1.15"/>
<circle cx="697.3" cy="193.8" r="3.6" fill="#000" class="a" stroke="#ececec" stroke-width="1.15"/>
<circle cx="718.2" cy="203.1" r="6" fill="#000" class="a" stroke="#ececec" stroke-width="1.15"/>
<path d="M715.4,197.79 A6,6 0 0 0 715.4,208.41 Z" fill="#eeeeee" class="a"/>
<path d="M721,197.79 A6,6 0 0 1 721,208.41 Z" fill="#eeeeee" class="a"/>
<circle cx="718.2" cy="203.1" r="6" fill="none" class="a" stroke="#ececec" stroke-width="1.15"/>
<polyline points="718.2,192.6 718.2,197.1" class="a"/>
<polyline points="718.2,209.1 718.2,213.6" class="a"/>
<circle cx="744.5" cy="203.1" r="6" fill="#000" class="a" stroke="#ececec" stroke-width="1.15"/>
<path d="M741.7,197.79 A6,6 0 0 0 741.7,208.41 Z" fill="#eeeeee" class="a"/>
<path d="M747.3,197.79 A6,6 0 0 1 747.3,208.41 Z" fill="#eeeeee" class="a"/>
<circle cx="744.5" cy="203.1" r="6" fill="none" class="a" stroke="#ececec" stroke-width="1.15"/>
<polyline points="744.5,192.6 744.5,197.1" class="a"/>
<polyline points="744.5,209.1 744.5,213.6" class="a"/>
<circle cx="697.3" cy="240.1" r="6" fill="#000" class="a" stroke="#ececec" stroke-width="1.15"/>
<path d="M694.5,234.79 A6,6 0 0 0 694.5,245.41 Z" fill="#eeeeee" class="a"/>
<path d="M700.1,234.79 A6,6 0 0 1 700.1,245.41 Z" fill="#eeeeee" class="a"/>
<circle cx="697.3" cy="240.1" r="6" fill="none" class="a" stroke="#ececec" stroke-width="1.15"/>
<polyline points="697.3,229.6 697.3,234.1" class="a"/>
<polyline points="697.3,246.1 697.3,250.6" class="a"/>
<circle cx="718.2" cy="240.1" r="6" fill="#000" class="a" stroke="#ececec" stroke-width="1.15"/>
<path d="M715.4,234.79 A6,6 0 0 0 715.4,245.41 Z" fill="#eeeeee" class="a"/>
<path d="M721,234.79 A6,6 0 0 1 721,245.41 Z" fill="#eeeeee" class="a"/>
<circle cx="718.2" cy="240.1" r="6" fill="none" class="a" stroke="#ececec" stroke-width="1.15"/>
<polyline points="718.2,229.6 718.2,234.1" class="a"/>
<polyline points="718.2,246.1 718.2,250.6" class="a"/>
<polygon points="669.8,267.5 673.8,268 674.1,269 676.5,269 676.5,264 674.1,264 673.8,265 669.8,265.5" fill="#f0f0f0" stroke="none"/>
<circle cx="686" cy="81.8" r="6.5" fill="#000" class="a" stroke="#ececec" stroke-width="1.15"/>
<polyline points="677.8,89.8 691.5,76.1" class="a"/>
<polygon points="689.9,75.7 695,72.6 692.1,77.9" fill="#f0f0f0" class="a"/>
<circle cx="725.5" cy="81.4" r="6.5" fill="#000" class="a" stroke="#ececec" stroke-width="1.15"/>
<polyline points="717.3,89.4 731,75.7" class="a"/>
<polygon points="729.4,75.3 734.5,72.2 731.6,77.5" fill="#f0f0f0" class="a"/>
<circle cx="764.2" cy="81.4" r="6.5" fill="#000" class="a" stroke="#ececec" stroke-width="1.15"/>
<polyline points="756,89.4 769.7,75.7" class="a"/>
<polygon points="768.1,75.3 773.2,72.2 770.3,77.5" fill="#f0f0f0" class="a"/>
<circle cx="750.4" cy="134.7" r="5.7" fill="none" class="a" stroke="#ececec" stroke-width="1.15"/>
<polyline points="749.4,134.5 756.1,134.5" class="a"/>
<polyline points="746,139.3 744.2,143.5 755.9,143.5 754.2,139.3" class="a"/>
<polygon points="775.2,126.5 771.2,127 770.9,128 768.5,128 768.5,123 770.9,123 771.2,124 775.2,124.5" fill="#f0f0f0" stroke="none"/>
<polygon points="775.2,150.5 771.2,151 770.9,152 768.5,152 768.5,147 770.9,147 771.2,148 775.2,148.5" fill="#f0f0f0" stroke="none"/>
<polygon points="775.2,204.5 771.2,205 770.9,206 768.5,206 768.5,201 770.9,201 771.2,202 775.2,202.5" fill="#f0f0f0" stroke="none"/>
<polygon points="775.2,241.5 771.2,242 770.9,243 768.5,243 768.5,238 770.9,238 771.2,239 775.2,239.5" fill="#f0f0f0" stroke="none"/>
<polygon points="775.2,363.5 771.2,364 770.9,365 768.5,365 768.5,360 770.9,360 771.2,361 775.2,361.5" fill="#f0f0f0" stroke="none"/>
<polygon points="775.2,392.5 771.2,393 770.9,394 768.5,394 768.5,389 770.9,389 771.2,390 775.2,390.5" fill="#f0f0f0" stroke="none"/>
<polygon points="775.2,407.5 771.2,408 770.9,409 768.5,409 768.5,404 770.9,404 771.2,405 775.2,405.5" fill="#f0f0f0" stroke="none"/>
<polygon points="775.2,421.5 771.2,422 770.9,423 768.5,423 768.5,418 770.9,418 771.2,419 775.2,419.5" fill="#f0f0f0" stroke="none"/>
<polygon points="775.2,436.5 771.2,437 770.9,438 768.5,438 768.5,433 770.9,433 771.2,434 775.2,434.5" fill="#f0f0f0" stroke="none"/>
<polygon points="775.2,452.5 771.2,453 770.9,454 768.5,454 768.5,449 770.9,449 771.2,450 775.2,450.5" fill="#f0f0f0" stroke="none"/>
</g></svg>
<div class="t" style="left:34.5px;top:9.8px;font-size:13.5px;color:#e4e4e4;font-weight:normal;letter-spacing:0px;transform:translateX(-50%) translateY(-50%) scale(0.78,1.0);transform-origin:center center;font-family:'Liberation Serif', serif">1</div><div class="t" style="left:34.5px;top:574.3px;font-size:13.5px;color:#e4e4e4;font-weight:normal;letter-spacing:0px;transform:translateX(-50%) translateY(-50%) scale(0.78,1.0);transform-origin:center center;font-family:'Liberation Serif', serif">1</div><div class="t" style="left:90px;top:9.8px;font-size:13.5px;color:#e4e4e4;font-weight:normal;letter-spacing:0px;transform:translateX(-50%) translateY(-50%) scale(0.78,1.0);transform-origin:center center;font-family:'Liberation Serif', serif">2</div><div class="t" style="left:90px;top:574.3px;font-size:13.5px;color:#e4e4e4;font-weight:normal;letter-spacing:0px;transform:translateX(-50%) translateY(-50%) scale(0.78,1.0);transform-origin:center center;font-family:'Liberation Serif', serif">2</div><div class="t" style="left:150px;top:9.8px;font-size:13.5px;color:#e4e4e4;font-weight:normal;letter-spacing:0px;transform:translateX(-50%) translateY(-50%) scale(0.78,1.0);transform-origin:center center;font-family:'Liberation Serif', serif">3</div><div class="t" style="left:150px;top:574.3px;font-size:13.5px;color:#e4e4e4;font-weight:normal;letter-spacing:0px;transform:translateX(-50%) translateY(-50%) scale(0.78,1.0);transform-origin:center center;font-family:'Liberation Serif', serif">3</div><div class="t" style="left:206.5px;top:9.8px;font-size:13.5px;color:#e4e4e4;font-weight:normal;letter-spacing:0px;transform:translateX(-50%) translateY(-50%) scale(0.78,1.0);transform-origin:center center;font-family:'Liberation Serif', serif">4</div><div class="t" style="left:206.5px;top:574.3px;font-size:13.5px;color:#e4e4e4;font-weight:normal;letter-spacing:0px;transform:translateX(-50%) translateY(-50%) scale(0.78,1.0);transform-origin:center center;font-family:'Liberation Serif', serif">4</div><div class="t" style="left:265px;top:9.8px;font-size:13.5px;color:#e4e4e4;font-weight:normal;letter-spacing:0px;transform:translateX(-50%) translateY(-50%) scale(0.78,1.0);transform-origin:center center;font-family:'Liberation Serif', serif">5</div><div class="t" style="left:265px;top:574.3px;font-size:13.5px;color:#e4e4e4;font-weight:normal;letter-spacing:0px;transform:translateX(-50%) translateY(-50%) scale(0.78,1.0);transform-origin:center center;font-family:'Liberation Serif', serif">5</div><div class="t" style="left:324px;top:9.8px;font-size:13.5px;color:#e4e4e4;font-weight:normal;letter-spacing:0px;transform:translateX(-50%) translateY(-50%) scale(0.78,1.0);transform-origin:center center;font-family:'Liberation Serif', serif">6</div><div class="t" style="left:324px;top:574.3px;font-size:13.5px;color:#e4e4e4;font-weight:normal;letter-spacing:0px;transform:translateX(-50%) translateY(-50%) scale(0.78,1.0);transform-origin:center center;font-family:'Liberation Serif', serif">6</div><div class="t" style="left:382.5px;top:9.8px;font-size:13.5px;color:#e4e4e4;font-weight:normal;letter-spacing:0px;transform:translateX(-50%) translateY(-50%) scale(0.78,1.0);transform-origin:center center;font-family:'Liberation Serif', serif">7</div><div class="t" style="left:382.5px;top:574.3px;font-size:13.5px;color:#e4e4e4;font-weight:normal;letter-spacing:0px;transform:translateX(-50%) translateY(-50%) scale(0.78,1.0);transform-origin:center center;font-family:'Liberation Serif', serif">7</div><div class="t" style="left:440.5px;top:9.8px;font-size:13.5px;color:#e4e4e4;font-weight:normal;letter-spacing:0px;transform:translateX(-50%) translateY(-50%) scale(0.78,1.0);transform-origin:center center;font-family:'Liberation Serif', serif">8</div><div class="t" style="left:440.5px;top:574.3px;font-size:13.5px;color:#e4e4e4;font-weight:normal;letter-spacing:0px;transform:translateX(-50%) translateY(-50%) scale(0.78,1.0);transform-origin:center center;font-family:'Liberation Serif', serif">8</div><div class="t" style="left:498.9px;top:9.8px;font-size:13.5px;color:#e4e4e4;font-weight:normal;letter-spacing:0px;transform:translateX(-50%) translateY(-50%) scale(0.78,1.0);transform-origin:center center;font-family:'Liberation Serif', serif">9</div><div class="t" style="left:498.9px;top:574.3px;font-size:13.5px;color:#e4e4e4;font-weight:normal;letter-spacing:0px;transform:translateX(-50%) translateY(-50%) scale(0.78,1.0);transform-origin:center center;font-family:'Liberation Serif', serif">9</div><div class="t" style="left:558.4px;top:9.8px;font-size:13.5px;color:#e4e4e4;font-weight:normal;letter-spacing:0px;transform:translateX(-50%) translateY(-50%) scale(0.78,1.0);transform-origin:center center;font-family:'Liberation Serif', serif">10</div><div class="t" style="left:558.4px;top:574.3px;font-size:13.5px;color:#e4e4e4;font-weight:normal;letter-spacing:0px;transform:translateX(-50%) translateY(-50%) scale(0.78,1.0);transform-origin:center center;font-family:'Liberation Serif', serif">10</div><div class="t" style="left:617.7px;top:9.8px;font-size:13.5px;color:#e4e4e4;font-weight:normal;letter-spacing:0px;transform:translateX(-50%) translateY(-50%) scale(0.78,1.0);transform-origin:center center;font-family:'Liberation Serif', serif">11</div><div class="t" style="left:617.7px;top:574.3px;font-size:13.5px;color:#e4e4e4;font-weight:normal;letter-spacing:0px;transform:translateX(-50%) translateY(-50%) scale(0.78,1.0);transform-origin:center center;font-family:'Liberation Serif', serif">11</div><div class="t" style="left:675.5px;top:9.8px;font-size:13.5px;color:#e4e4e4;font-weight:normal;letter-spacing:0px;transform:translateX(-50%) translateY(-50%) scale(0.78,1.0);transform-origin:center center;font-family:'Liberation Serif', serif">12</div><div class="t" style="left:675.5px;top:574.3px;font-size:13.5px;color:#e4e4e4;font-weight:normal;letter-spacing:0px;transform:translateX(-50%) translateY(-50%) scale(0.78,1.0);transform-origin:center center;font-family:'Liberation Serif', serif">12</div><div class="t" style="left:734.8px;top:9.8px;font-size:13.5px;color:#e4e4e4;font-weight:normal;letter-spacing:0px;transform:translateX(-50%) translateY(-50%) scale(0.78,1.0);transform-origin:center center;font-family:'Liberation Serif', serif">13</div><div class="t" style="left:734.8px;top:574.3px;font-size:13.5px;color:#e4e4e4;font-weight:normal;letter-spacing:0px;transform:translateX(-50%) translateY(-50%) scale(0.78,1.0);transform-origin:center center;font-family:'Liberation Serif', serif">13</div><div class="t" style="left:794px;top:9.8px;font-size:13.5px;color:#e4e4e4;font-weight:normal;letter-spacing:0px;transform:translateX(-50%) translateY(-50%) scale(0.78,1.0);transform-origin:center center;font-family:'Liberation Serif', serif">14</div><div class="t" style="left:794px;top:574.3px;font-size:13.5px;color:#e4e4e4;font-weight:normal;letter-spacing:0px;transform:translateX(-50%) translateY(-50%) scale(0.78,1.0);transform-origin:center center;font-family:'Liberation Serif', serif">14</div><div class="t" style="left:851px;top:9.8px;font-size:13.5px;color:#e4e4e4;font-weight:normal;letter-spacing:0px;transform:translateX(-50%) translateY(-50%) scale(0.78,1.0);transform-origin:center center;font-family:'Liberation Serif', serif">15</div><div class="t" style="left:851px;top:574.3px;font-size:13.5px;color:#e4e4e4;font-weight:normal;letter-spacing:0px;transform:translateX(-50%) translateY(-50%) scale(0.78,1.0);transform-origin:center center;font-family:'Liberation Serif', serif">15</div><div class="t" style="left:10.6px;top:67.1px;font-size:14px;color:#e4e4e4;font-weight:normal;letter-spacing:0px;transform:translateX(-50%) translateY(-50%) scale(0.8,1.0);transform-origin:center center;font-family:'Liberation Serif', serif">A</div><div class="t" style="left:870.5px;top:67.1px;font-size:14px;color:#e4e4e4;font-weight:normal;letter-spacing:0px;transform:translateX(-50%) translateY(-50%) scale(0.8,1.0);transform-origin:center center;font-family:'Liberation Serif', serif">A</div><div class="t" style="left:10.6px;top:172.8px;font-size:14px;color:#e4e4e4;font-weight:normal;letter-spacing:0px;transform:translateX(-50%) translateY(-50%) scale(0.8,1.0);transform-origin:center center;font-family:'Liberation Serif', serif">B</div><div class="t" style="left:870.5px;top:172.8px;font-size:14px;color:#e4e4e4;font-weight:normal;letter-spacing:0px;transform:translateX(-50%) translateY(-50%) scale(0.8,1.0);transform-origin:center center;font-family:'Liberation Serif', serif">B</div><div class="t" style="left:10.6px;top:290.4px;font-size:14px;color:#e4e4e4;font-weight:normal;letter-spacing:0px;transform:translateX(-50%) translateY(-50%) scale(0.8,1.0);transform-origin:center center;font-family:'Liberation Serif', serif">C</div><div class="t" style="left:870.5px;top:290.4px;font-size:14px;color:#e4e4e4;font-weight:normal;letter-spacing:0px;transform:translateX(-50%) translateY(-50%) scale(0.8,1.0);transform-origin:center center;font-family:'Liberation Serif', serif">C</div><div class="t" style="left:10.6px;top:408.8px;font-size:14px;color:#e4e4e4;font-weight:normal;letter-spacing:0px;transform:translateX(-50%) translateY(-50%) scale(0.8,1.0);transform-origin:center center;font-family:'Liberation Serif', serif">D</div><div class="t" style="left:870.5px;top:408.8px;font-size:14px;color:#e4e4e4;font-weight:normal;letter-spacing:0px;transform:translateX(-50%) translateY(-50%) scale(0.8,1.0);transform-origin:center center;font-family:'Liberation Serif', serif">D</div><div class="t" style="left:10.6px;top:521px;font-size:14px;color:#e4e4e4;font-weight:normal;letter-spacing:0px;transform:translateX(-50%) translateY(-50%) scale(0.8,1.0);transform-origin:center center;font-family:'Liberation Serif', serif">E</div><div class="t" style="left:870.5px;top:521px;font-size:14px;color:#e4e4e4;font-weight:normal;letter-spacing:0px;transform:translateX(-50%) translateY(-50%) scale(0.8,1.0);transform-origin:center center;font-family:'Liberation Serif', serif">E</div><div class="t" style="left:40px;top:509.5px;font-size:15px;color:#00f000;font-weight:bold;letter-spacing:2.65px;transform:translateY(-50%) scale(1.0,1.1);transform-origin:left center;font-family:'Liberation Sans', sans-serif">此资料系重庆凯潜滤油机制造有限公司专有资料<span style="position:relative;left:-5px">，</span>属凯潜产权所有<span style="position:relative;left:-5px">，</span>未</div><div class="t" style="left:40px;top:531.5px;font-size:15px;color:#00f000;font-weight:bold;letter-spacing:2.65px;transform:translateY(-50%) scale(1.0,1.1);transform-origin:left center;font-family:'Liberation Sans', sans-serif">经凯潜书面同意<span style="position:relative;left:-5px">，</span>不准复制<span style="position:relative;left:-5px">，</span>不得向第三方转让<span style="position:relative;left:-5px">，</span>披露及提供<span style="position:relative;left:-3px">。</span>违者必</div><div class="t" style="left:40px;top:555px;font-size:15px;color:#00f000;font-weight:bold;letter-spacing:2.65px;transform:translateY(-50%) scale(1.0,1.1);transform-origin:left center;font-family:'Liberation Sans', sans-serif">究<span style="position:relative;left:-3px">。</span></div><div class="t" style="left:728px;top:504.5px;font-size:15px;color:#e6e6e6;font-weight:normal;letter-spacing:0px;transform:translateX(-50%) translateY(-50%) scale(0.78,1.08);transform-origin:center center;font-family:'Liberation Sans', sans-serif">重庆凯潜滤油机制造有限公司</div><div class="t" style="left:726px;top:525.8px;font-size:9px;color:#ececec;font-weight:bold;letter-spacing:0px;transform:translateX(-50%) translateY(-50%) scale(0.92,1.12);transform-origin:center center;font-family:'Liberation Sans', sans-serif">蒸馏设备</div><div class="t" style="left:609px;top:544px;font-size:9.5px;color:#ececec;font-weight:bold;letter-spacing:0px;transform:translateY(-50%) scale(0.8,1.1);transform-origin:left center;font-family:'Liberation Sans', sans-serif">设计</div><div class="t" style="left:608.5px;top:557.5px;font-size:9.5px;color:#ececec;font-weight:bold;letter-spacing:0px;transform:translateY(-50%) scale(0.8,1.1);transform-origin:left center;font-family:'Liberation Sans', sans-serif">校对</div><div class="t" style="left:699px;top:544px;font-size:9.5px;color:#ececec;font-weight:bold;letter-spacing:0px;transform:translateY(-50%) scale(0.8,1.1);transform-origin:left center;font-family:'Liberation Sans', sans-serif">审校</div><div class="t" style="left:699px;top:557.5px;font-size:9.5px;color:#ececec;font-weight:bold;letter-spacing:0px;transform:translateY(-50%) scale(0.8,1.1);transform-origin:left center;font-family:'Liberation Sans', sans-serif">日期</div><div class="t" style="left:780px;top:544px;font-size:9.5px;color:#ececec;font-weight:bold;letter-spacing:0px;transform:translateY(-50%) scale(0.8,1.1);transform-origin:left center;font-family:'Liberation Sans', sans-serif">制图</div><div class="t" style="left:780px;top:557.5px;font-size:9.5px;color:#ececec;font-weight:bold;letter-spacing:0px;transform:translateY(-50%) scale(0.8,1.1);transform-origin:left center;font-family:'Liberation Sans', sans-serif">图样</div><div class="t" style="left:813.5px;top:557.5px;font-size:9.5px;color:#ececec;font-weight:bold;letter-spacing:0px;transform:translateY(-50%) scale(0.8,1.1);transform-origin:left center;font-family:'Liberation Sans', sans-serif">流程图</div><div class="t" style="left:32.5px;top:414.8px;font-size:13px;color:#e8e8e8;font-weight:normal;letter-spacing:0px;transform:translateY(-50%) scale(1.03,0.95);transform-origin:left center;font-family:'Liberation Sans', sans-serif">废油泵</div><div class="t" style="left:171px;top:209.2px;font-size:11.5px;color:#e8e8e8;font-weight:normal;letter-spacing:0px;transform:translateY(-50%) scale(1.0,0.9);transform-origin:left center;font-family:'Liberation Sans', sans-serif">初馏塔</div><div class="t" style="left:292.8px;top:166.7px;font-size:11.5px;color:#e8e8e8;font-weight:normal;letter-spacing:0px;transform:translateX(-50%) translateY(-50%) scale(1.0,0.9);transform-origin:center center;font-family:'Liberation Sans', sans-serif">蒸馏斧</div><div class="t" style="left:331px;top:73.5px;font-size:15.5px;color:#e8e8e8;font-weight:normal;letter-spacing:1px;transform:translateY(-50%) scale(1.0,0.95);transform-origin:left center;font-family:'Liberation Serif', serif">分离塔</div><div class="t" style="left:437.3px;top:163.6px;font-size:11.5px;color:#e8e8e8;font-weight:normal;letter-spacing:0px;transform:translateY(-50%) scale(1.0,0.9);transform-origin:left center;font-family:'Liberation Sans', sans-serif">分离塔</div><div class="t" style="left:571px;top:166.3px;font-size:11.5px;color:#e8e8e8;font-weight:normal;letter-spacing:0px;transform:translateX(-50%) translateY(-50%) scale(1.0,0.9);transform-origin:center center;font-family:'Liberation Sans', sans-serif">蒸馏斧</div><div class="t" style="left:579.5px;top:105.4px;font-size:15.5px;color:#e8e8e8;font-weight:normal;letter-spacing:0.5px;transform:translateY(-50%) scale(1.0,0.95);transform-origin:left center;font-family:'Liberation Serif', serif">分离塔</div><div class="t" style="left:777.5px;top:123.3px;font-size:12px;color:#e8e8e8;font-weight:normal;letter-spacing:1.6px;transform:translateY(-50%);transform-origin:left center;font-family:'Liberation Sans', sans-serif">汽油</div><div class="t" style="left:777.5px;top:147.2px;font-size:10.6px;color:#e8e8e8;font-weight:normal;letter-spacing:0.85px;transform:translateY(-50%) scale(1.0,0.95);transform-origin:left center;font-family:'Liberation Sans', sans-serif">轻质油汽柴油</div><div class="t" style="left:778px;top:199.3px;font-size:10.6px;color:#e8e8e8;font-weight:normal;letter-spacing:0.85px;transform:translateY(-50%) scale(1.0,0.95);transform-origin:left center;font-family:'Liberation Sans', sans-serif">轻质润滑油</div><div class="t" style="left:778px;top:215.3px;font-size:10.6px;color:#e8e8e8;font-weight:normal;letter-spacing:0.85px;transform:translateY(-50%) scale(1.0,0.95);transform-origin:left center;font-family:'Liberation Sans', sans-serif">基础油</div><div class="t" style="left:778px;top:237.3px;font-size:10.6px;color:#e8e8e8;font-weight:normal;letter-spacing:0.85px;transform:translateY(-50%) scale(1.0,0.95);transform-origin:left center;font-family:'Liberation Sans', sans-serif">重质润滑油</div><div class="t" style="left:778px;top:253.3px;font-size:10.6px;color:#e8e8e8;font-weight:normal;letter-spacing:0.85px;transform:translateY(-50%) scale(1.0,0.95);transform-origin:left center;font-family:'Liberation Sans', sans-serif">基础油</div><div class="t" style="left:777px;top:361.5px;font-size:12.5px;color:#e8e8e8;font-weight:normal;letter-spacing:1.0px;transform:translateY(-50%) scale(1.0,1.08);transform-origin:left center;font-family:'Liberation Sans', sans-serif">减压渣油</div><div class="t" style="left:777px;top:390.5px;font-size:12px;color:#e8e8e8;font-weight:normal;letter-spacing:1.6px;transform:translateY(-50%);transform-origin:left center;font-family:'Liberation Sans', sans-serif">汽油</div><div class="t" style="left:777px;top:404.9px;font-size:10.6px;color:#e8e8e8;font-weight:normal;letter-spacing:0.85px;transform:translateY(-50%) scale(1.0,0.95);transform-origin:left center;font-family:'Liberation Sans', sans-serif">轻质油汽柴油</div><div class="t" style="left:776px;top:419.9px;font-size:9.4px;color:#e8e8e8;font-weight:normal;letter-spacing:1.3px;transform:translateY(-50%);transform-origin:left center;font-family:'Liberation Sans', sans-serif">轻质润滑油基础油</div><div class="t" style="left:776px;top:434.3px;font-size:9.4px;color:#e8e8e8;font-weight:normal;letter-spacing:1.3px;transform:translateY(-50%);transform-origin:left center;font-family:'Liberation Sans', sans-serif">重质润滑油基础油</div><div class="t" style="left:777px;top:450.3px;font-size:10.6px;color:#e8e8e8;font-weight:normal;letter-spacing:0.7px;transform:translateY(-50%) scale(1.0,0.95);transform-origin:left center;font-family:'Liberation Sans', sans-serif">汽柴油</div>
</div></body></html>
